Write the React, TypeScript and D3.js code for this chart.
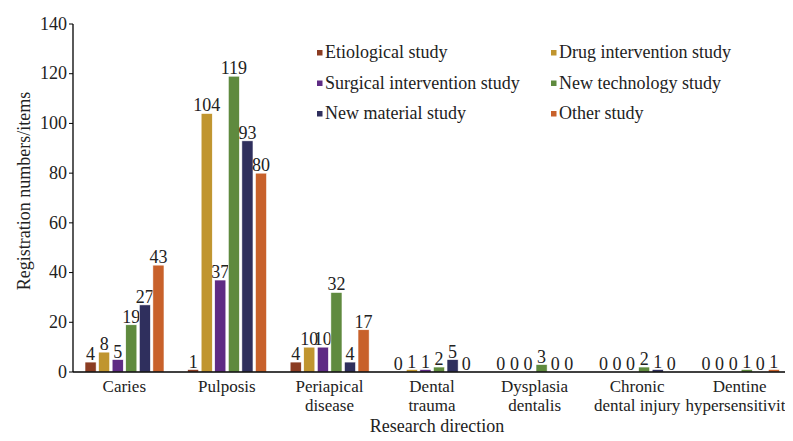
import * as d3 from 'd3'

const CATEGORIES = [
  ['Caries'],
  ['Pulposis'],
  ['Periapical', 'disease'],
  ['Dental', 'trauma'],
  ['Dysplasia', 'dentalis'],
  ['Chronic', 'dental injury'],
  ['Dentine', 'hypersensitivity'],
]

const SERIES = [
  'Etiological study',
  'Drug intervention study',
  'Surgical intervention study',
  'New technology study',
  'New material study',
  'Other study',
]

const COLORS = ['#8b3c22', '#c0952f', '#5e2b84', '#5f8a3e', '#2f2f5d', '#c8612b']

// values per series, one per category
const ETIOLOGICAL = [4, 1, 4, 0, 0, 0, 0]
const DRUG = [8, 104, 10, 1, 0, 0, 0]
const SURGICAL = [5, 37, 10, 1, 0, 0, 0]
const NEW_TECH = [19, 119, 32, 2, 3, 2, 1]
const NEW_MATERIAL = [27, 93, 4, 5, 0, 1, 0]
const OTHER = [43, 80, 17, 0, 0, 0, 1]

const VALUES = [ETIOLOGICAL, DRUG, SURGICAL, NEW_TECH, NEW_MATERIAL, OTHER]
const Y_TICKS = [0, 20, 40, 60, 80, 100, 120, 140]

const width = 793
const height = 441
const left = 73
const right = 791
const top = 24
const bottom = 372

const textStyle = { fontFamily: "'Liberation Serif'", fontSize: 18, fill: '#222' }
const catStyle = { ...textStyle, fontSize: 17 }

export default function App() {
  const catKeys = CATEGORIES.map(c => c.join(' '))
  const x = d3.scaleBand().domain(catKeys).range([left, right]).padding(0)
  const xs = d3.scaleBand<number>().domain(d3.range(SERIES.length)).range([12, 91]).paddingInner(0.18)
  const y = d3.scaleLinear().domain([0, 140]).range([bottom, top])

  return (
    <div style={{ margin: -8 }}>
      <svg width={width} height={height} style={{ display: 'block' }}>
        <rect width={width} height={height} fill="#d5ecf9" />
        <rect x={5} y={4} width={width - 5} height={height - 4} fill="#ffffff" />

        {/* bars + value labels */}
        {VALUES.map((vals, si) => (
          <g key={SERIES[si]}>
            {vals.map((v, i) => {
              const bx = (x(catKeys[i]) || 0) + (xs(si) || 0)
              return (
                <g key={i}>
                  <rect
                    x={bx}
                    y={y(v)}
                    width={xs.bandwidth()}
                    height={y(0) - y(v)}
                    fill={COLORS[si]}
                    stroke="#ffffff"
                    strokeWidth={0.6}
                  />
                  <text x={bx + xs.bandwidth() / 2} y={y(v) - 2} textAnchor="middle" style={textStyle}>
                    {v}
                  </text>
                </g>
              )
            })}
          </g>
        ))}

        {/* y axis */}
        <line x1={left} x2={left} y1={top} y2={bottom} stroke="#000" strokeWidth={1.3} />
        {Y_TICKS.map(t => (
          <g key={t} transform={`translate(${left},${y(t)})`}>
            <line x1={-4} x2={0} stroke="#000" />
            <text x={-6} dy="0.32em" textAnchor="end" style={textStyle}>{t}</text>
          </g>
        ))}

        {/* x axis */}
        <line x1={left} x2={right} y1={bottom} y2={bottom} stroke="#000" strokeWidth={1.3} />
        {CATEGORIES.map((lines, i) => {
          const cx = (x(catKeys[i]) || 0) + x.bandwidth() / 2
          return lines.map((line, li) => (
            <text key={`${i}-${li}`} x={cx} y={392 + li * 19} textAnchor="middle" style={catStyle}>
              {line}
            </text>
          ))
        })}

        <text x={437} y={432} textAnchor="middle" style={textStyle}>Research direction</text>
        <text transform="translate(30,191) rotate(-90)" textAnchor="middle" style={textStyle}>
          Registration numbers/items
        </text>

        {/* legend */}
        {SERIES.map((name, i) => {
          const lx = i % 2 === 0 ? 317 : 551
          const ly = 58 + Math.floor(i / 2) * 30.5
          return (
            <g key={name}>
              <rect x={lx} y={ly - 8} width={5.5} height={5.5} fill={COLORS[i]} />
              <text x={lx + 8} y={ly} style={textStyle}>{name}</text>
            </g>
          )
        })}
      </svg>
    </div>
  )
}
